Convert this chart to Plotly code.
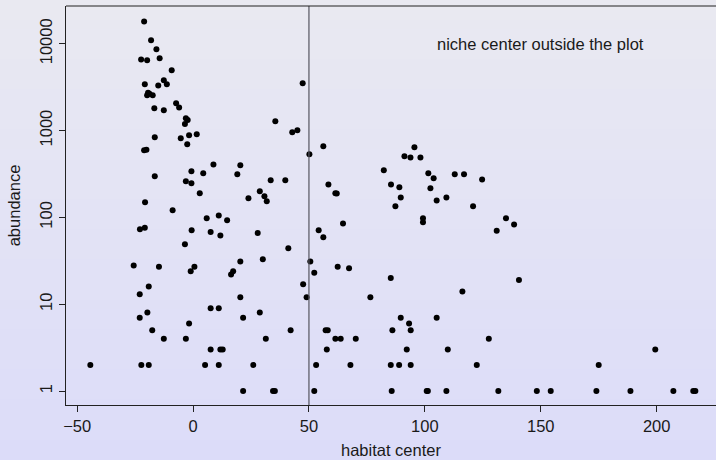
import plotly.graph_objects as go

# ---- data ----
habitat_center = [
    -21.1, -18.1, -15.8, -22.4, -19.8, -14.4, -9.2, -20.8, -19.4, -19.8,
    -18.8, -17.4, -15.0, -12.6, -11.3, -16.7, -12.6, -7.3, -6.0, -3.1,
    -2.3, -3.5, -16.5, -5.3, -1.7, 1.6, -2.5, -21.1, -20.1, 8.8,
    20.4, -16.5, -0.7, 4.4, 19.1, -3.1, -0.7, 2.9, 23.9, -20.7,
    -8.8, 5.9, 11.1, 14.7, -22.9, -20.8, -0.6, 7.6, 11.8, -3.5,
    -25.6, -14.7, 0.6, -1.0, 20.4, 16.4, 17.3, -19.1, -23.0, 20.4,
    -19.7, -23.0, 7.6, 11.1, 21.6, -1.7, -17.6, -12.6, -3.1, 7.6,
    11.8, 12.8, -44.3, -22.3, -19.1, 5.2, 11.1, 21.6,
    47.3, 35.5, 42.8, 45.0, 50.2, 56.2, 33.5, 39.8, 28.8, 30.8,
    31.8, 58.4, 61.4, 62.0, 64.7, 54.2, 82.3, 91.2, 93.8, 95.5,
    98.1, 85.4, 89.0, 89.6, 87.3, 101.5, 103.8, 102.4, 105.1, 109.3,
    112.9, 116.9, 120.8, 99.2, 99.2,
    124.7, 135.0, 138.5, 131.0,
    27.9, 56.2, 41.1, 30.1, 50.6, 52.3, 62.4, 67.3, 85.3, 47.5,
    49.0, 76.5, 116.2, 28.8, 89.6, 105.1, 93.2, 42.1, 57.2, 58.1,
    86.0, 93.9, 31.4, 61.4, 63.7, 70.2, 57.7, 92.2, 109.9, 26.0,
    53.1, 67.9, 85.3, 88.9, 93.9, 122.4, 34.5, 35.3, 52.3, 85.7,
    100.8, 101.3, 109.3,
    140.6, 127.6, 131.7, 148.3, 154.3, 175.0, 174.0, 188.7, 199.4, 207.2,
    215.8, 216.7,
]
abundance = [
    18000, 11000, 8650, 6600, 6450, 6800, 4950, 3410, 2730, 2550,
    2660, 2550, 3310, 3800, 3410, 1810, 1710, 2060, 1850, 1390,
    1320, 1190, 837, 815, 883, 907, 695, 593, 603, 408,
    398, 297, 340, 322, 314, 261, 247, 190, 166, 149,
    121, 98, 105, 93, 73, 76, 71, 68, 62, 49,
    28, 27, 27, 24, 31, 22, 24, 16, 13, 12,
    8, 7, 9, 9, 7, 6, 5, 4, 4, 3,
    3, 3, 2, 2, 2, 2, 2, 1,
    3500, 1280, 955, 1007, 533, 659, 267, 267, 200, 175,
    153, 240, 190, 189, 85, 71, 349, 506, 491, 641,
    491, 240, 222, 170, 134, 322, 282, 216, 157, 170,
    314, 314, 134, 98, 88,
    274, 98, 83, 70,
    66, 59, 44, 33, 31, 23, 27, 26, 20, 17,
    12, 12, 14, 8, 7, 7, 6, 5, 5, 5,
    5, 5, 4, 4, 4, 4, 3, 3, 3, 2,
    2, 2, 2, 2, 2, 2, 1, 1, 1, 1,
    1, 1, 1,
    19, 4, 1, 1, 1, 2, 1, 1, 3, 1,
    1, 1,
]
x_ticks = [-50, 0, 50, 100, 150, 200]
y_ticks = [1, 10, 100, 1000, 10000]
y_ticktext = ["1", "10", "100", "1000", "10000"]
niche_line_x = 50
note_text = "niche center outside the plot"
note_x, note_y = 150, 10000

# ---- figure ----
W, H = 716, 460
ml, mr, mt, mb = 66, 0, 6, 55
pw, ph = W - ml - mr, H - mt - mb
FONT = "Liberation Sans, Arial, Helvetica, sans-serif"
FS = 16.5

fig = go.Figure()
fig.add_trace(go.Scatter(
    x=habitat_center, y=abundance, mode="markers",
    marker=dict(size=6, color="black", line=dict(width=0)),
    hoverinfo="x+y", showlegend=False,
))

# vertical gradient background (top light grey-lavender -> bottom lavender)
top_c = (233, 233, 241)
bot_c = (220, 220, 249)
n = 46
y_top = (H - mb) / ph
y_bot = -mb / ph
shapes = []
for i in range(n):
    t = i / (n - 1)
    c = tuple(round(top_c[k] + (bot_c[k] - top_c[k]) * t) for k in range(3))
    y1 = y_top - (y_top - y_bot) * i / n
    y0 = y_top - (y_top - y_bot) * (i + 1) / n
    shapes.append(dict(type="rect", xref="paper", yref="paper",
                       x0=-ml / pw - 0.01, x1=1.01, y0=y0 - 0.002, y1=y1 + 0.002,
                       fillcolor="rgb(%d,%d,%d)" % c, line=dict(width=0),
                       layer="below"))
shapes.append(dict(type="line", xref="x", yref="paper",
                   x0=niche_line_x, x1=niche_line_x, y0=0, y1=1,
                   line=dict(color="#555560", width=1.2)))
# top border of the box
shapes.append(dict(type="line", xref="paper", yref="paper",
                   x0=0, x1=1, y0=1, y1=1,
                   line=dict(color="#222", width=1.2)))
fig.update_layout(
    width=W, height=H,
    margin=dict(l=ml, r=mr, t=mt, b=mb, pad=0),
    paper_bgcolor="rgb(226,226,245)",
    plot_bgcolor="rgba(0,0,0,0)",
    font=dict(family=FONT, size=FS, color="#1a1a1a"),
    shapes=shapes,
    annotations=[dict(x=note_x, y=4, xref="x", yref="y", text=note_text,
                      showarrow=False, font=dict(size=FS, color="#1a1a1a"),
                      xanchor="center", yanchor="middle")],
    xaxis=dict(range=[-54.8, 225.6], tickvals=x_ticks, ticks="outside",
               ticklen=6, tickwidth=1, tickcolor="#222", showline=True,
               linecolor="#222", linewidth=1.2, mirror=False, showgrid=False,
               zeroline=False, tickfont=dict(size=FS), automargin=False,
               title=dict(text="habitat center", font=dict(size=FS), standoff=10)),
    yaxis=dict(type="log", range=[-0.161, 4.435], tickvals=y_ticks,
               ticktext=y_ticktext, tickangle=-90, ticks="outside", ticklen=6,
               tickwidth=1, tickcolor="#222", showline=True, linecolor="#222",
               linewidth=1.2, mirror=False, showgrid=False, zeroline=False,
               tickfont=dict(size=FS), automargin=False, ticklabelstandoff=0,
               title=dict(text="abundance", font=dict(size=FS), standoff=12)),
)
fig.write_html("out.html",
               config={"displayModeBar": False},
               post_script="document.body.style.margin='0';"
                           "document.body.style.background='rgb(220,220,249)';")
